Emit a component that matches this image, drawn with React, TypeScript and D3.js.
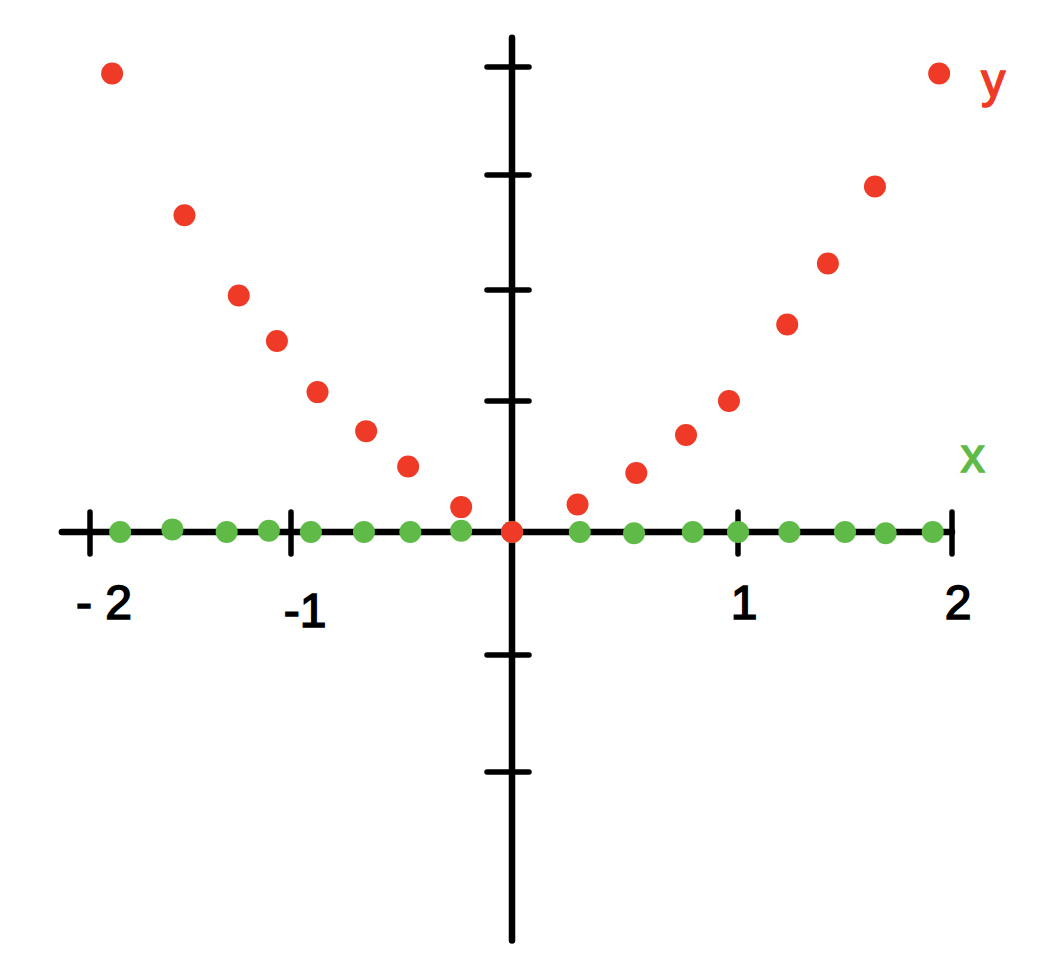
import * as d3 from "d3";

// hand-drawn axes: tick positions are not evenly spaced, so scales are polylinear
const xTicks = [-2, -1, 1, 2];
const xTickLabels = ["- 2", "-1", "1", "2"];
const yTicks = [-2, -1, 1, 2, 3, 4];

// green series "x": inputs lying on the x axis
const inputX = [-1.85, -1.59, -1.32, -1.11, -0.91, -0.67, -0.46, -0.23, 0, 0.3, 0.54, 0.8, 1.0, 1.24, 1.5, 1.69, 1.91];
const inputY = [0, 0.02, 0, 0.01, 0, 0, 0, 0.01, 0, 0, -0.01, 0, 0, 0, 0, -0.01, 0];

// red series "y"
const outX = [-1.89, -1.53, -1.26, -1.07, -0.88, -0.66, -0.47, -0.23, 0, 0.29, 0.55, 0.77, 0.96, 1.23, 1.42, 1.64, 1.94];
const outY = [3.94, 2.65, 1.95, 1.54, 1.08, 0.77, 0.5, 0.19, 0, 0.21, 0.45, 0.74, 1.0, 1.69, 2.23, 2.9, 3.94];

const RED = "#ee3a26";
const GREEN = "#5fba47";

export default function App() {
  const width = 1038;
  const height = 968;

  const x = d3.scaleLinear().domain([-2, -1, 0, 1, 2]).range([90, 291, 512, 738, 952]);
  const y = d3.scaleLinear().domain([-2, -1, 0, 1, 2, 3, 4]).range([772, 655, 532, 401, 290, 175, 67]);

  const x0 = x(0);
  const y0 = y(0);
  const font = "'Liberation Sans', 'DejaVu Sans', sans-serif";

  return (
    <svg width={width} height={height} style={{ position: "absolute", left: 0, top: 0, background: "#fff" }}>
      {/* axes */}
      <g stroke="#000" strokeWidth={6.5} strokeLinecap="round" fill="none">
        <line x1={x(-2.14)} x2={x(2)} y1={y0} y2={y0} />
        <line x1={x0} x2={x0} y1={y(4.27)} y2={y(-3.44)} />
        {xTicks.map(t => (
          <line key={"xt" + t} x1={x(t)} x2={x(t)} y1={y0 - 20} y2={y0 + 22} strokeWidth={5.5} />
        ))}
        {yTicks.map(t => (
          <line key={"yt" + t} x1={x0 - 25} x2={x0 + 17} y1={y(t)} y2={y(t)} strokeWidth={5.5} />
        ))}
      </g>

      {/* tick labels */}
      <g fontFamily={font} fontSize={48} fill="#000" stroke="#000" strokeWidth={1.6} textAnchor="middle">
        {xTicks.map((t, i) => (
          <text key={"xl" + t} x={x(t) + (t < 0 ? 14 : 6)} y={t === -1 ? 627 : 619}>
            {xTickLabels[i]}
          </text>
        ))}
      </g>

      {/* green points */}
      <g fill={GREEN}>
        {inputX.map((v, i) => (
          <circle key={"g" + i} cx={x(v)} cy={y(inputY[i])} r={11} />
        ))}
      </g>

      {/* red points */}
      <g fill={RED}>
        {outX.map((v, i) => (
          <circle key={"r" + i} cx={x(v)} cy={y(outY[i])} r={11} />
        ))}
      </g>

      {/* series labels */}
      <text x={x(outX[outX.length - 1]) + 54} y={y(outY[outY.length - 1]) + 24} fontFamily={font} fontSize={48}
        fill={RED} stroke={RED} strokeWidth={1.6} textAnchor="middle">y</text>
      <text x={x(inputX[inputX.length - 1]) + 40} y={y0 - 60} fontFamily={font} fontSize={48}
        fill={GREEN} stroke={GREEN} strokeWidth={1.6} textAnchor="middle">x</text>
    </svg>
  );
}
